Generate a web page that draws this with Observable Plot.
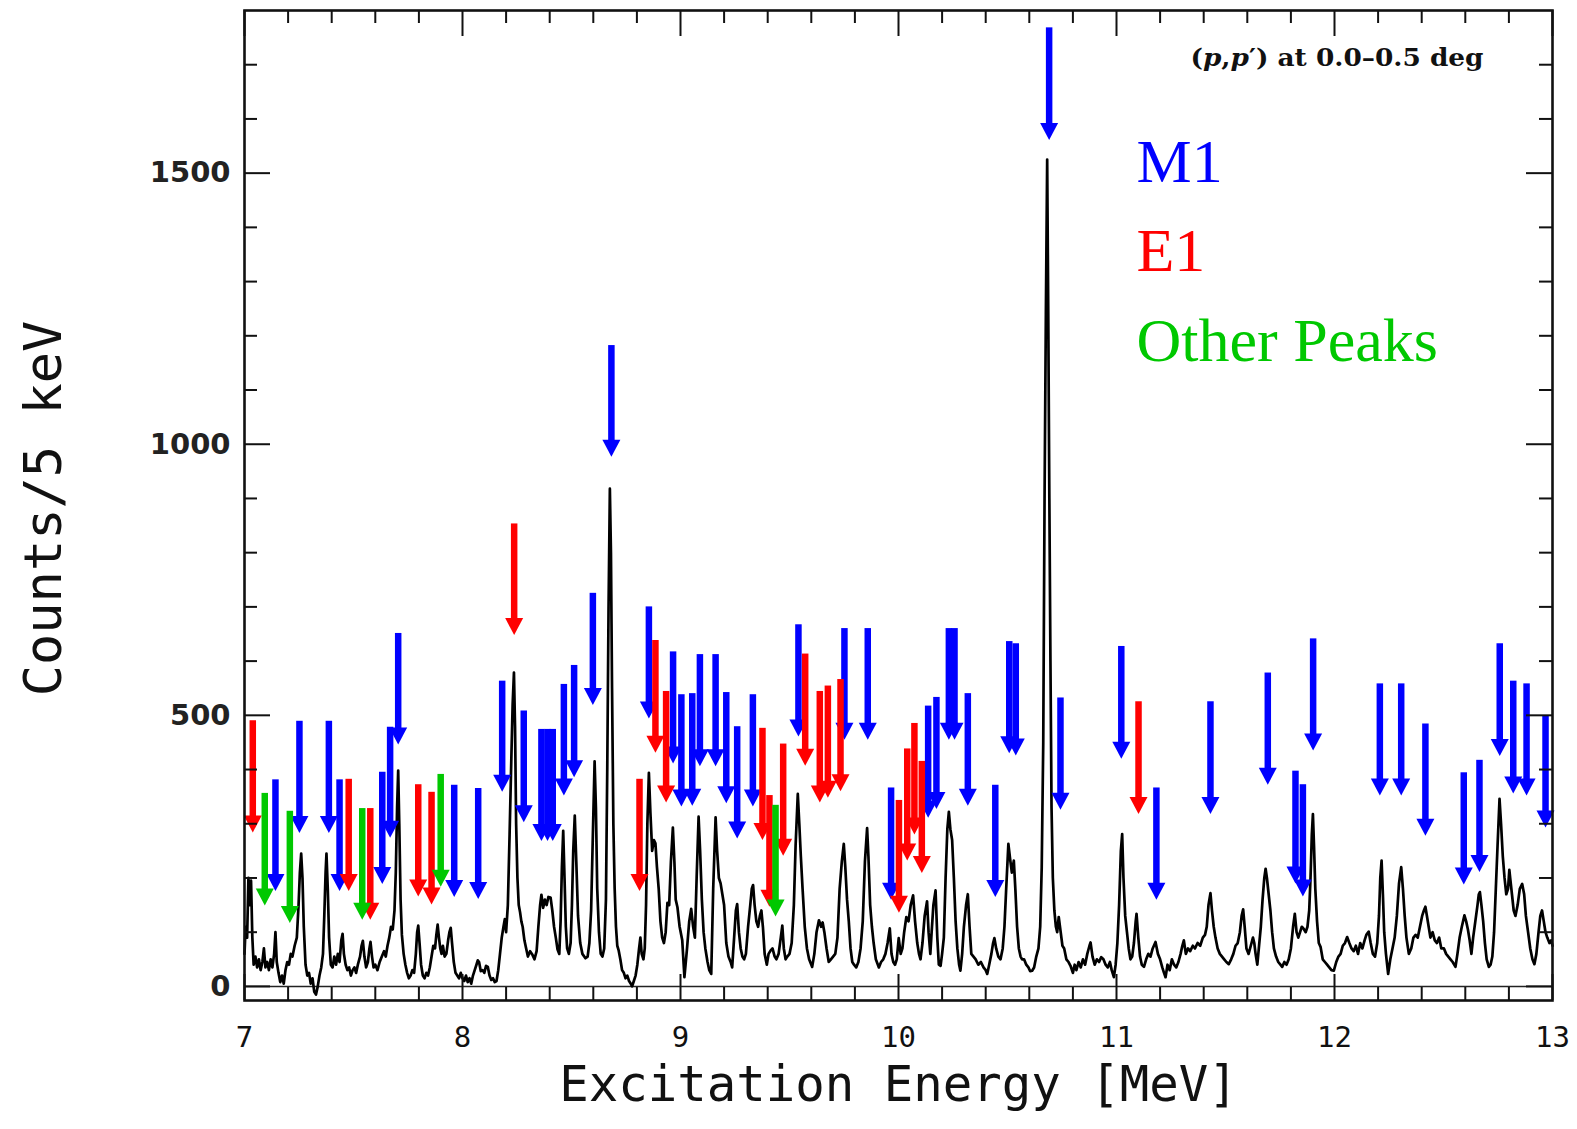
<!DOCTYPE html>
<html><head><meta charset="utf-8">
<script src="https://cdn.jsdelivr.net/npm/d3@7"></script>
<script src="https://cdn.jsdelivr.net/npm/@observablehq/plot@0.6"></script>
<style>html,body{margin:0;padding:0;background:#fff}</style>
</head><body><div id="chart"></div>
<script>
// ---------- data ----------
const xTicks = [7, 8, 9, 10, 11, 12, 13];
const xMinor = [7.2,7.4,7.6,7.8,8.2,8.4,8.6,8.8,9.2,9.4,9.6,9.8,10.2,10.4,10.6,10.8,11.2,11.4,11.6,11.8,12.2,12.4,12.6,12.8];
const yTicks = [0, 500, 1000, 1500];
const yMinor = [100,200,300,400,600,700,800,900,1100,1200,1300,1400,1600,1700];
const types = ["M1", "E1", "Other Peaks"];
const typeColors = ["#0000ff", "#ff0000", "#00c800"];
const titleParts = [["(", false], ["p", true], [",", false], ["p", true], ["′) at 0.0–0.5 deg", false]];
const xLabel = "Excitation Energy [MeV]";
const yLabel = "Counts/5 keV";

// spectrum: [energy MeV, counts per 5 keV]
const spectrum = [
[7.000,60],[7.005,110],[7.012,90],[7.018,200],[7.024,150],[7.030,195],[7.036,90],[7.042,40],[7.050,55],[7.058,35],
[7.066,50],[7.074,30],[7.082,45],[7.089,70],[7.096,35],[7.104,45],[7.112,30],[7.120,50],[7.128,35],[7.136,60],
[7.142,100],[7.148,45],[7.156,25],[7.164,8],[7.172,20],[7.180,5],[7.188,30],[7.196,45],[7.204,40],[7.212,60],
[7.220,55],[7.230,75],[7.240,90],[7.248,150],[7.254,210],[7.260,245],[7.266,200],[7.272,110],[7.280,40],[7.288,20],
[7.296,25],[7.304,5],[7.312,15],[7.320,-10],[7.328,-15],[7.336,0],[7.344,20],[7.352,35],[7.360,60],[7.366,130],
[7.372,210],[7.376,245],[7.382,180],[7.388,90],[7.396,40],[7.404,35],[7.412,55],[7.420,40],[7.428,60],[7.436,45],
[7.444,85],[7.450,97],[7.456,60],[7.464,40],[7.472,30],[7.480,35],[7.488,20],[7.496,30],[7.504,35],[7.512,25],
[7.520,40],[7.530,55],[7.537,75],[7.543,84],[7.550,55],[7.558,35],[7.566,45],[7.573,70],[7.578,82],[7.585,55],
[7.592,35],[7.600,40],[7.610,30],[7.620,45],[7.630,55],[7.640,65],[7.648,55],[7.656,75],[7.664,90],[7.672,110],
[7.680,105],[7.688,140],[7.694,210],[7.700,330],[7.705,398],[7.710,300],[7.716,160],[7.722,95],[7.730,60],[7.738,40],
[7.746,25],[7.754,15],[7.762,20],[7.770,30],[7.778,25],[7.786,60],[7.792,100],[7.797,112],[7.803,80],[7.810,40],
[7.818,20],[7.826,15],[7.834,25],[7.842,20],[7.850,35],[7.858,55],[7.866,75],[7.874,70],[7.880,95],[7.886,114],
[7.892,90],[7.898,70],[7.904,60],[7.910,75],[7.918,55],[7.926,60],[7.934,85],[7.940,100],[7.946,108],[7.952,80],
[7.960,45],[7.968,25],[7.976,20],[7.984,15],[7.992,25],[8.000,15],
[8.008,10],[8.016,20],[8.024,8],[8.032,15],[8.040,5],[8.048,20],[8.056,30],[8.064,40],[8.070,48],[8.076,45],
[8.084,28],[8.092,30],[8.100,25],[8.108,38],[8.116,36],[8.124,20],[8.132,12],[8.140,15],[8.148,8],[8.156,10],
[8.164,30],[8.172,60],[8.180,90],[8.188,110],[8.194,124],[8.200,100],[8.208,150],[8.216,280],[8.224,420],[8.230,520],
[8.236,579],[8.241,480],[8.246,300],[8.252,200],[8.258,150],[8.264,137],[8.270,120],[8.276,110],[8.284,85],[8.292,70],
[8.300,55],[8.310,65],[8.320,59],[8.330,50],[8.340,65],[8.348,110],[8.356,150],[8.362,169],[8.370,145],[8.378,160],
[8.386,150],[8.394,165],[8.404,164],[8.412,140],[8.420,110],[8.428,90],[8.436,68],[8.444,60],[8.450,120],[8.456,220],
[8.462,287],[8.468,200],[8.474,110],[8.480,70],[8.488,60],[8.496,80],[8.502,150],[8.508,250],[8.515,315],[8.522,230],
[8.530,130],[8.540,80],[8.550,60],[8.564,52],[8.574,55],[8.582,80],[8.590,140],[8.598,280],[8.606,415],[8.612,330],
[8.618,180],[8.626,100],[8.634,60],[8.642,55],[8.650,70],[8.658,160],[8.664,400],[8.670,700],[8.676,918],[8.681,800],
[8.686,550],[8.692,300],[8.698,180],[8.704,110],[8.710,75],[8.716,67],[8.724,50],[8.732,30],[8.740,25],[8.748,15],
[8.756,20],[8.764,10],[8.772,5],[8.778,0],[8.786,10],[8.794,20],[8.802,40],[8.810,70],[8.816,90],[8.822,60],
[8.830,50],[8.836,70],[8.842,150],[8.848,300],[8.855,394],[8.862,320],[8.870,250],[8.878,270],[8.885,264],[8.892,220],
[8.900,180],[8.908,120],[8.916,90],[8.924,80],[8.932,100],[8.940,154],[8.948,150],[8.956,230],[8.965,293],[8.972,230],
[8.978,160],[8.986,146],[8.996,110],[9.008,85],[9.018,17],[9.030,70],[9.040,120],[9.049,143],[9.058,110],[9.066,90],
[9.074,200],[9.083,313],[9.090,250],[9.098,160],[9.106,100],[9.114,70],[9.124,45],[9.132,30],[9.141,23],[9.150,180],
[9.161,312],[9.168,250],[9.176,200],[9.184,190],[9.192,170],[9.200,150],[9.210,80],[9.220,55],[9.230,45],[9.237,35],
[9.246,90],[9.254,140],[9.260,152],[9.268,100],[9.276,70],[9.284,55],[9.292,50],[9.300,60],[9.310,110],[9.320,150],
[9.327,180],[9.333,187],[9.340,150],[9.348,120],[9.356,110],[9.364,130],[9.371,140],[9.378,110],[9.386,60],[9.396,40],
[9.404,60],[9.413,66],[9.422,70],[9.432,55],[9.440,50],[9.450,60],[9.460,90],[9.467,112],[9.474,70],[9.482,50],
[9.490,55],[9.500,60],[9.510,80],[9.520,150],[9.528,260],[9.538,355],[9.545,300],[9.552,240],[9.560,180],[9.570,110],
[9.580,70],[9.590,50],[9.604,36],[9.614,60],[9.624,100],[9.635,122],[9.645,110],[9.652,118],[9.660,100],[9.670,70],
[9.680,45],[9.690,50],[9.700,55],[9.710,60],[9.720,90],[9.730,180],[9.740,230],[9.749,263],[9.756,220],[9.764,160],
[9.772,120],[9.780,70],[9.788,45],[9.796,40],[9.806,35],[9.816,45],[9.826,70],[9.836,120],[9.846,230],[9.856,292],
[9.862,240],[9.870,150],[9.878,110],[9.886,80],[9.896,50],[9.910,35],[9.920,45],[9.930,50],[9.940,60],[9.950,80],
[9.960,107],[9.968,60],[9.976,45],[9.984,40],[9.992,50],[10.001,89],[10.010,60],[10.018,70],[10.026,100],[10.036,128],
[10.046,120],[10.056,150],[10.067,168],[10.076,120],[10.086,80],[10.094,60],[10.101,50],[10.110,80],[10.120,130],[10.131,157],
[10.138,100],[10.146,60],[10.152,100],[10.160,150],[10.170,177],[10.178,90],[10.185,40],[10.193,38],[10.200,60],[10.208,90],
[10.216,200],[10.224,290],[10.231,322],[10.238,290],[10.246,270],[10.254,200],[10.262,120],[10.270,70],[10.278,40],[10.284,29],
[10.292,60],[10.300,110],[10.310,150],[10.318,170],[10.326,110],[10.334,60],[10.344,55],[10.354,50],[10.366,40],[10.378,45],
[10.390,35],[10.400,30],[10.407,23],[10.416,40],[10.426,60],[10.434,80],[10.440,89],[10.448,70],[10.458,55],[10.468,50],
[10.478,70],[10.486,110],[10.494,180],[10.504,263],[10.512,235],[10.520,210],[10.529,232],[10.536,180],[10.544,110],[10.552,70],
[10.560,55],[10.567,50],[10.576,50],[10.586,40],[10.596,35],[10.604,28],[10.613,29],[10.622,35],[10.632,55],[10.642,70],
[10.650,110],[10.657,220],[10.664,450],[10.670,900],[10.676,1240],[10.682,1525],[10.687,1240],[10.692,900],[10.697,600],[10.702,330],
[10.708,200],[10.715,140],[10.722,110],[10.728,100],[10.735,128],[10.744,100],[10.752,75],[10.760,70],[10.770,50],[10.780,45],
[10.789,38],[10.800,25],[10.808,40],[10.816,30],[10.826,45],[10.836,35],[10.846,50],[10.856,40],[10.866,60],[10.876,75],
[10.881,81],[10.890,55],[10.900,40],[10.910,50],[10.920,45],[10.930,54],[10.940,50],[10.950,40],[10.960,35],[10.970,45],
[10.978,30],[10.988,17],[10.996,40],[11.004,80],[11.012,150],[11.020,250],[11.026,281],[11.032,200],[11.040,130],[11.048,100],
[11.056,70],[11.064,50],[11.072,55],[11.080,80],[11.088,120],[11.092,134],[11.100,90],[11.108,55],[11.116,40],[11.126,36],
[11.136,50],[11.146,60],[11.156,55],[11.166,70],[11.179,82],[11.190,60],[11.200,50],[11.210,35],[11.218,25],[11.225,17],
[11.234,40],[11.244,30],[11.254,50],[11.264,40],[11.274,35],[11.284,45],[11.294,60],[11.302,75],[11.309,85],[11.318,60],
[11.328,70],[11.338,65],[11.350,75],[11.360,70],[11.372,80],[11.384,75],[11.396,90],[11.406,95],[11.414,110],[11.422,150],
[11.431,172],[11.438,140],[11.446,110],[11.454,90],[11.464,70],[11.474,60],[11.484,55],[11.494,50],[11.504,45],[11.515,41],
[11.526,50],[11.536,60],[11.546,75],[11.556,80],[11.566,100],[11.574,130],[11.581,142],[11.588,110],[11.596,70],[11.606,60],
[11.616,75],[11.626,90],[11.632,80],[11.638,60],[11.646,40],[11.654,75],[11.662,110],[11.670,160],[11.678,200],[11.684,217],
[11.690,200],[11.698,170],[11.706,140],[11.714,100],[11.722,70],[11.732,55],[11.742,45],[11.752,40],[11.760,36],[11.770,45],
[11.780,40],[11.790,50],[11.800,70],[11.810,110],[11.818,134],[11.826,100],[11.834,90],[11.842,100],[11.850,110],[11.859,106],
[11.868,100],[11.876,110],[11.884,140],[11.890,200],[11.896,280],[11.901,318],[11.906,260],[11.912,180],[11.920,120],[11.928,80],
[11.936,73],[11.946,50],[11.956,45],[11.966,40],[11.976,35],[11.986,30],[11.997,29],[12.008,45],[12.018,55],[12.028,60],
[12.038,75],[12.048,80],[12.058,91],[12.068,80],[12.078,70],[12.088,65],[12.098,75],[12.108,60],[12.118,80],[12.128,70],
[12.138,85],[12.146,95],[12.157,101],[12.166,80],[12.176,60],[12.186,55],[12.196,80],[12.204,130],[12.210,200],[12.216,232],
[12.222,170],[12.228,100],[12.236,60],[12.246,23],[12.256,50],[12.266,70],[12.276,90],[12.286,130],[12.296,190],[12.306,220],
[12.314,180],[12.322,130],[12.330,90],[12.341,60],[12.352,70],[12.362,90],[12.372,95],[12.382,90],[12.392,110],[12.402,130],
[12.410,140],[12.417,147],[12.424,130],[12.432,110],[12.440,90],[12.450,100],[12.460,85],[12.470,80],[12.480,90],[12.490,70],
[12.502,70],[12.512,60],[12.522,55],[12.532,50],[12.542,45],[12.555,36],[12.564,60],[12.574,90],[12.584,110],[12.596,131],
[12.604,120],[12.612,105],[12.620,85],[12.628,60],[12.636,90],[12.646,120],[12.656,150],[12.662,170],[12.667,174],[12.674,150],
[12.682,120],[12.690,80],[12.698,50],[12.708,36],[12.716,40],[12.724,55],[12.732,100],[12.740,180],[12.748,260],[12.757,346],
[12.764,300],[12.772,240],[12.780,200],[12.788,170],[12.796,180],[12.802,215],[12.807,196],[12.814,170],[12.822,140],[12.830,130],
[12.840,150],[12.850,180],[12.861,189],[12.870,170],[12.878,130],[12.888,100],[12.898,70],[12.908,50],[12.917,41],[12.926,60],
[12.936,100],[12.944,130],[12.952,140],[12.960,120],[12.968,100],[12.976,90],[12.986,80],[12.994,85],[13.000,75]
];

// arrows: [energy MeV, tail (top) counts, tip counts]
const m1Arrows = [
[7.142,381,176],[7.252,489,283],[7.387,489,283],[7.436,381,176],[7.632,395,189],[7.668,478,274],[7.705,651,446],
[7.962,371,165],[8.072,365,161],[8.182,563,359],[8.281,508,303],[8.362,474,268],[8.390,474,268],[8.414,474,268],
[8.465,557,352],[8.512,592,386],[8.598,725,519],[8.683,1182,977],[8.855,700,494],[8.966,617,411],[9.004,538,332],
[9.054,540,333],[9.089,612,406],[9.161,612,406],[9.210,542,338],[9.260,479,273],[9.332,538,332],[9.541,667,461],
[9.752,660,455],[9.859,660,455],[9.966,366,160],[10.136,517,311],[10.174,533,327],[10.231,660,455],[10.257,660,455],
[10.318,540,333],[10.444,371,165],[10.508,636,430],[10.538,632,426],[10.691,1768,1561],[10.743,532,326],[11.022,627,420],
[11.183,366,160],[11.431,525,318],[11.694,578,372],[11.821,397,190],[11.855,372,166],[11.902,641,435],[12.208,558,352],
[12.306,558,352],[12.417,484,278],[12.593,394,188],[12.665,417,211],[12.758,632,425],[12.820,563,356],[12.881,558,352],
[12.968,498,293]
];
const e1Arrows = [
[7.038,490,284],[7.478,382,176],[7.577,328,123],[7.797,372,166],[7.858,358,151],[8.237,853,648],[8.812,382,176],
[8.885,638,431],[8.934,544,339],[9.376,476,270],[9.408,352,147],[9.471,447,241],[9.572,613,407],[9.639,544,339],
[9.676,554,348],[9.734,566,360],[10.002,343,136],[10.040,438,232],[10.073,485,280],[10.107,415,209],[11.101,525,318]
];
const otherArrows = [
[7.093,356,149],[7.208,323,117],[7.540,328,123],[7.900,391,184],[9.436,334,129]
];

// ---------- layout ----------
const W = 1577, H = 1129, mL = 244, mR = 25, mT = 10, mB = 129;
const pw = W - mL - mR, ph = H - mT - mB;
const majorLen = 26, minorLen = 13;

const toObjs = (arr, type) => arr.map(([E, top, tip]) => ({E, top, tip, type}));
const arrowSets = [toObjs(m1Arrows, types[0]), toObjs(e1Arrows, types[1]), toObjs(otherArrows, types[2])];

const headSymbol = {
  draw(ctx) { ctx.moveTo(0, 0); ctx.lineTo(-9, -17); ctx.lineTo(9, -17); ctx.closePath(); }
};

const arrowMarks = arrowSets.flatMap(set => [
  Plot.ruleX(set, {x: "E", y1: "top", y2: d => d.tip + 24, stroke: "type", strokeWidth: 6.5}),
  Plot.dot(set, {x: "E", y: "tip", symbol: headSymbol, fill: "type", stroke: null, r: 5})
]);

const tickStyle = {stroke: "#111", strokeWidth: 2};
const titleString = titleParts.map(p => p[0]).join("");

const chart = Plot.plot({
  width: W, height: H,
  marginLeft: mL, marginRight: mR, marginTop: mT, marginBottom: mB,
  x: {domain: [7, 13]},
  y: {domain: [-26, 1800]},
  color: {domain: types, range: typeColors},
  style: {background: "#fff"},
  marks: [
    Plot.ruleY([0], {stroke: "#222", strokeWidth: 1.5}),
    Plot.line(spectrum, {x: d => d[0], y: d => d[1], stroke: "#000", strokeWidth: 2.7, strokeLinejoin: "round"}),
    ...arrowMarks,
    // inward ticks on all four sides
    Plot.tickX(xTicks, {x: d => d, insetTop: ph - majorLen, ...tickStyle}),
    Plot.tickX(xTicks, {x: d => d, insetBottom: ph - majorLen, ...tickStyle}),
    Plot.tickX(xMinor, {x: d => d, insetTop: ph - minorLen, ...tickStyle}),
    Plot.tickX(xMinor, {x: d => d, insetBottom: ph - minorLen, ...tickStyle}),
    Plot.tickY(yTicks, {y: d => d, insetRight: pw - majorLen, ...tickStyle}),
    Plot.tickY(yTicks, {y: d => d, insetLeft: pw - majorLen, ...tickStyle}),
    Plot.tickY(yMinor, {y: d => d, insetRight: pw - minorLen, ...tickStyle}),
    Plot.tickY(yMinor, {y: d => d, insetLeft: pw - minorLen, ...tickStyle}),
    Plot.frame({stroke: "#111", strokeWidth: 2.6}),
    Plot.axisX({ticks: xTicks, tickSize: 0, tickPadding: 26, tickFormat: d => String(d), label: null,
      fontSize: 29, fontFamily: "DejaVu Sans Mono", fill: "#111"}),
    Plot.axisY({ticks: yTicks, tickSize: 0, tickPadding: 14, tickFormat: d => String(d), label: null,
      fontSize: 29, fontFamily: "DejaVu Sans", fontWeight: "bold", fill: "#222"}),
    Plot.text([xLabel], {text: d => d, frameAnchor: "bottom", dy: 100, lineAnchor: "bottom", textAnchor: "middle",
      fontSize: 49, fontFamily: "DejaVu Sans Mono", fill: "#111"}),
    Plot.text([yLabel], {text: d => d, frameAnchor: "left", rotate: -90, dx: -200, dy: 3, lineAnchor: "middle", textAnchor: "middle",
      fontSize: 52, fontFamily: "DejaVu Sans Mono", fill: "#111"}),
    Plot.text([titleString], {text: d => d, frameAnchor: "top-left", dx: 946, dy: 55, lineAnchor: "bottom", textAnchor: "start",
      fontSize: 24, fontFamily: "DejaVu Serif", fontWeight: "bold", fill: "#111"}),
    Plot.text([types[0]], {text: d => d, frameAnchor: "top-left", dx: 892, dy: 171, lineAnchor: "bottom", textAnchor: "start",
      fontSize: 62, fontFamily: "Liberation Serif", fill: typeColors[0]}),
    Plot.text([types[1]], {text: d => d, frameAnchor: "top-left", dx: 892, dy: 260, lineAnchor: "bottom", textAnchor: "start",
      fontSize: 62, fontFamily: "Liberation Serif", fill: typeColors[1]}),
    Plot.text([types[2]], {text: d => d, frameAnchor: "top-left", dx: 892, dy: 350, lineAnchor: "bottom", textAnchor: "start",
      fontSize: 62, fontFamily: "Liberation Serif", fill: typeColors[2]})
  ]
});

// build the title with italic p's
d3.select(chart).selectAll("text").filter(function() { return this.textContent === titleString; }).each(function() {
  const tnode = d3.select(this);
  tnode.text(null);
  titleParts.forEach(([s, it]) => {
    const ts = tnode.append("tspan").text(s);
    if (it) ts.attr("font-style", "italic");
  });
  tnode.attr("textLength", 293).attr("lengthAdjust", "spacingAndGlyphs");
});

document.getElementById("chart").appendChild(chart);
</script>
</body></html>
